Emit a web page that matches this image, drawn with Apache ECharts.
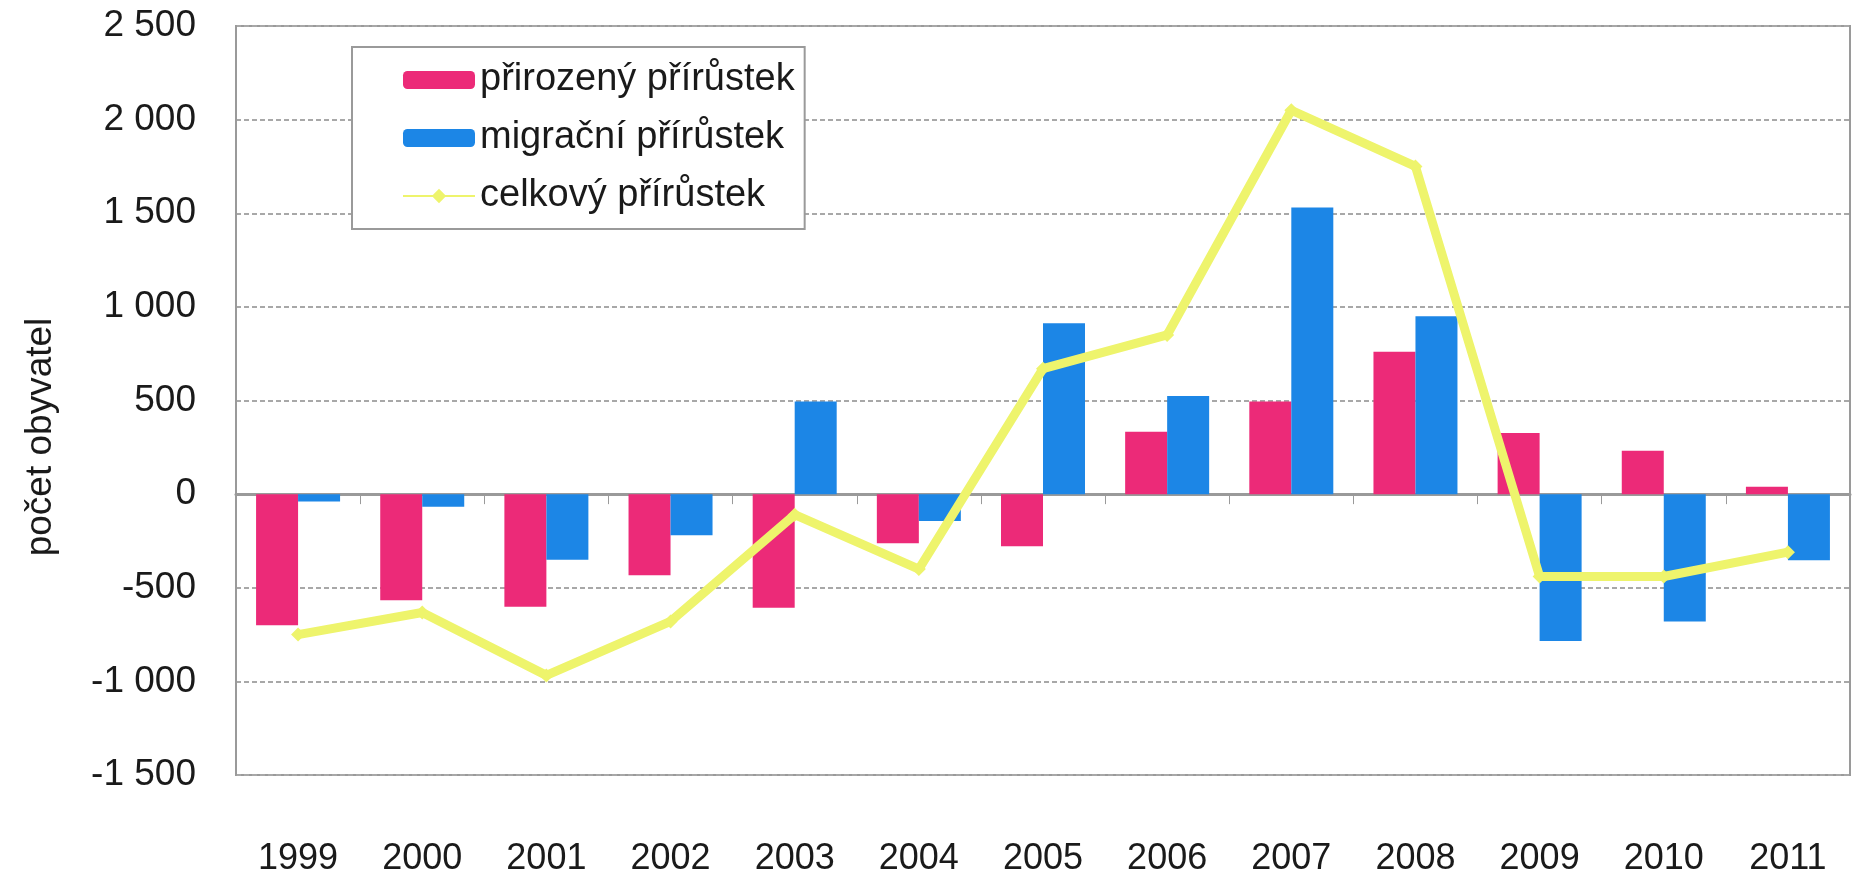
<!DOCTYPE html>
<html>
<head>
<meta charset="utf-8">
<script src="https://cdn.jsdelivr.net/npm/echarts@6/dist/echarts.min.js"></script>
<style>
  html, body { margin: 0; padding: 0; background: #ffffff; }
  #chart { width: 1854px; height: 887px; }
</style>
</head>
<body>
<div id="chart"></div>
<script>
const years = ["1999", "2000", "2001", "2002", "2003", "2004", "2005", "2006", "2007", "2008", "2009", "2010", "2011"];
const naturalGrowth = [-700, -567, -601, -433, -607, -262, -279, 333, 495, 760, 327, 232, 40];
const migrationGrowth = [-40, -67, -350, -219, 495, -143, 912, 524, 1531, 950, -784, -680, -353];
const totalGrowth = [-750, -632, -968, -680, -110, -400, 670, 850, 2050, 1750, -440, -440, -310];

const font = "'Liberation Sans', Arial, sans-serif";
const pink = "#ec2a78";
const blue = "#1c86e6";
const yellow = "#eef46c";

function formatThousands(value) {
  const sign = value < 0 ? "-" : "";
  const digits = String(Math.abs(value));
  return sign + digits.replace(/\B(?=(\d{3})+(?!\d))/g, " ");
}

const chart = echarts.init(document.getElementById("chart"), undefined, { renderer: "canvas" });
chart.setOption({
  animation: false,
  backgroundColor: "#ffffff",
  textStyle: { fontFamily: font },
  grid: {
    left: 236, right: 4, top: 26, bottom: 112,
    show: true, borderColor: "#9a9a9a", borderWidth: 2, backgroundColor: "#ffffff",
  },
  legend: {
    orient: "vertical",
    left: 352,
    top: 47,
    padding: [14, 10, 14, 50],
    itemWidth: 72,
    itemHeight: 18,
    itemGap: 20,
    backgroundColor: "#ffffff",
    borderColor: "#9a9a9a",
    borderWidth: 2,
    textStyle: { fontFamily: font, fontSize: 38, color: "#1a1a1a" },
    data: ["přirozený přírůstek", "migrační přírůstek", "celkový přírůstek"],
  },
  graphic: [
    {
      type: "text",
      x: 41,
      y: 437,
      rotation: Math.PI / 2,
      style: {
        text: "počet obyvatel",
        fontFamily: font,
        fontSize: 37,
        fill: "#1a1a1a",
        align: "center",
        verticalAlign: "middle",
      },
    },
  ],
  xAxis: [
    {
      type: "category",
      data: years,
      axisLine: { onZero: true, lineStyle: { color: "#9a9a9a", width: 3 } },
      axisTick: { show: true, length: 10, lineStyle: { color: "#9a9a9a", width: 1 } },
      axisLabel: { show: false },
      splitLine: { show: false },
    },
    {
      type: "category",
      data: years,
      position: "bottom",
      axisLine: { show: false },
      axisTick: { show: false },
      axisLabel: { show: true, margin: 66, color: "#1a1a1a", fontFamily: font, fontSize: 36 },
    },
  ],
  yAxis: {
    type: "value",
    min: -1500,
    max: 2500,
    interval: 500,
    axisLine: { show: true, lineStyle: { color: "#9a9a9a", width: 2 } },
    axisTick: { show: false },
    axisLabel: {
      margin: 40,
      color: "#1a1a1a",
      fontFamily: font,
      fontSize: 37,
      formatter: (value) => formatThousands(value),
    },
    splitLine: { lineStyle: { color: "#a8a8a8", type: [5, 3], width: 2 } },
  },
  series: [
    {
      name: "přirozený přírůstek",
      type: "bar",
      barWidth: 42,
      barGap: "0%",
      itemStyle: { color: pink },
      data: naturalGrowth,
    },
    {
      name: "migrační přírůstek",
      type: "bar",
      barWidth: 42,
      barGap: "0%",
      itemStyle: { color: blue },
      data: migrationGrowth,
    },
    {
      name: "celkový přírůstek",
      type: "line",
      symbol: "diamond",
      symbolSize: 14,
      lineStyle: { color: yellow, width: 9 },
      itemStyle: { color: yellow },
      data: totalGrowth,
      z: 5,
    },
  ],
});
</script>
</body>
</html>
